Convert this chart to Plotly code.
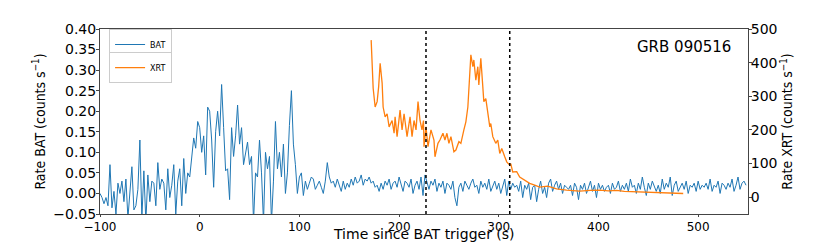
import numpy as np
import plotly.graph_objects as go

# BAT light curve, 2 s bins from -100 s to 548 s
bat_time = np.arange(-100, 550, 2)
bat_rate = [
    0.00, -0.01, -0.025, -0.01, -0.03, 0.07, -0.035, 0.005, -0.05, 0.025,
    0.00, 0.03, -0.02, 0.035, -0.06, 0.015, 0.065, -0.04, -0.03, 0.01,
    0.13, -0.06, 0.055, -0.07, 0.045, -0.02, 0.03, 0.025, -0.03, 0.075,
    0.01, 0.035, 0.025, -0.04, 0.06, -0.01, 0.02, 0.07, -0.05, 0.03,
    0.06, -0.03, 0.085, 0.00, 0.05, 0.04, 0.09, 0.135, 0.11, 0.175,
    # t = 0 .. 128
    0.16, 0.10, 0.14, 0.045, 0.21, 0.20, 0.13, 0.015, 0.15, 0.20,
    0.14, 0.265, 0.16, 0.055, 0.06, -0.015, 0.16, 0.09, 0.14, 0.215,
    0.12, 0.16, 0.07, 0.10, 0.125, 0.07, 0.09, -0.07, 0.05, 0.04,
    0.13, 0.05, -0.07, 0.10, 0.06, 0.09, -0.07, 0.03, 0.175, 0.06,
    0.10, 0.04, 0.12, 0.00, 0.05, 0.165, 0.25, 0.12, 0.07, 0.00,
    0.04, 0.05, -0.005, 0.03, 0.01, 0.025, 0.04, 0.035, 0.01, 0.02,
    0.03, 0.015, 0.00, 0.03, 0.075,
    # t = 130 .. 548
    0.04, 0.025, 0.03, 0.015, 0.035, 0.02, 0.005, 0.03, 0.01, 0.025,
    0.015, 0.035, 0.02, 0.04, 0.025, 0.03, 0.045, 0.02, 0.035, 0.03,
    0.04, 0.025, 0.03, 0.015, 0.02, 0.005, 0.025, 0.01, 0.03, 0.02,
    0.035, 0.01, 0.025, 0.03, 0.015, 0.04, 0.02, 0.005, 0.03, 0.025,
    0.015, 0.035, 0.00, 0.02, 0.03, 0.01, 0.04, -0.005, 0.045, 0.025,
    0.01, 0.03, 0.02, 0.035, 0.005, 0.025, 0.015, 0.03, 0.00, 0.025,
    0.02, 0.01, 0.03, -0.01, -0.03, 0.015, 0.025, 0.005, 0.03, 0.02,
    0.01, 0.025, 0.035, 0.015, 0.02, 0.00, 0.03, 0.015, 0.025, 0.01,
    0.035, 0.005, 0.02, 0.03, 0.01, 0.025, 0.00, 0.02, 0.035, -0.005,
    0.03, 0.01, 0.025, 0.015, 0.02, 0.005, 0.03, -0.01, 0.02, 0.01,
    0.025, -0.015, 0.015, 0.02, -0.02, 0.01, 0.03, 0.00, 0.015, -0.01,
    0.025, 0.035, 0.005, 0.02, 0.03, 0.01, 0.025, 0.00, 0.02, 0.015,
    0.01, 0.02, -0.005, 0.025, 0.015, -0.015, 0.02, 0.01, 0.025, 0.00,
    0.015, 0.03, 0.005, 0.02, -0.01, 0.025, 0.01, 0.02, 0.005, 0.015,
    0.02, 0.00, 0.025, 0.01, 0.015, 0.03, 0.005, 0.02, 0.01, 0.025,
    0.005, 0.035, 0.015, 0.02, 0.00, 0.025, 0.01, 0.04, 0.015, -0.005,
    0.025, 0.01, 0.03, 0.015, 0.005, 0.02, 0.00, 0.035, 0.01, 0.025,
    0.015, 0.04, -0.005, 0.02, 0.03, 0.005, 0.015, 0.025, 0.01, 0.03,
    0.00, 0.02, 0.015, 0.025, 0.005, 0.03, 0.01, 0.02, 0.015, 0.025,
    0.01, 0.035, 0.005, 0.02, 0.015, 0.03, 0.00, 0.025, 0.02, 0.01,
    0.025, 0.015, 0.035, 0.005, 0.02, 0.04, 0.01, 0.025, 0.03, 0.02,
]

# XRT light curve
xrt_time = [
    172, 174, 176, 178, 179.5, 181, 183, 184, 186, 188,
    190, 193, 195, 196, 198, 201, 203, 205, 208, 211,
    213, 215, 217, 219, 221, 223, 224.5, 225, 227, 229,
    232, 235, 236, 239, 241, 244, 246, 248, 250, 252,
    255, 257, 260, 262, 265, 267, 269, 271, 272, 274,
    275, 277, 279, 280, 282, 284, 285, 287, 289, 291,
    292, 294, 297, 299, 301, 303, 306, 308, 311, 312,
    314, 318, 321, 326, 331, 336, 341, 349, 358, 368,
    381, 392, 401, 410, 418, 426, 435, 443, 451, 460,
    468, 476, 485,
]
xrt_rate = [
    467, 324, 268, 284, 328, 398, 339, 268, 239, 248,
    209, 228, 190, 239, 180, 259, 200, 248, 180, 239,
    180, 228, 200, 284, 228, 200, 228, 150, 209, 150,
    200, 170, 120, 160, 170, 190, 170, 190, 160, 180,
    135, 140, 165, 160, 200, 224, 268, 358, 423, 388,
    408, 348, 388, 334, 413, 328, 284, 293, 248, 209,
    219, 180, 160, 170, 130, 145, 120, 105, 95, 100,
    75, 76, 60, 50, 41, 36, 30, 33, 25, 21,
    18, 20, 21, 19, 20, 17, 16, 15, 16, 14,
    12, 12, 11,
]

dashed_times = [227, 311]

tick_font = dict(family='DejaVu Sans', size=14, color='black')
title_font = dict(family='Liberation Sans Narrow, DejaVu Sans Condensed, Arial Narrow, sans-serif',
                  size=14, color='black')

fig = go.Figure()

fig.add_trace(go.Scatter(
    x=bat_time, y=bat_rate, mode='lines', name='BAT',
    line=dict(color='#1f77b4', width=1), legend='legend',
))
fig.add_trace(go.Scatter(
    x=xrt_time, y=xrt_rate, mode='lines', name='XRT', yaxis='y2',
    line=dict(color='#ff7f0e', width=1.3), legend='legend2',
))

for t in dashed_times:
    fig.add_shape(type='line', x0=t, x1=t, xref='x', y0=0, y1=1, yref='paper',
                  line=dict(color='black', width=1.5, dash='dot'))

fig.add_annotation(text='GRB 090516', xref='paper', yref='paper', x=0.977, y=0.905,
                   xanchor='right', yanchor='middle', showarrow=False,
                   font=dict(family='DejaVu Sans', size=15, color='black'))

# x-axis title as an annotation so it sits just under the tick labels
fig.add_annotation(text='Time since BAT trigger (s)', xref='paper', yref='paper', x=0.5, y=-0.162,
                   xanchor='center', yanchor='bottom', showarrow=False,
                   font=dict(family='DejaVu Sans', size=14, color='black'))

legend_style = dict(
    bgcolor='white', bordercolor='#cccccc', borderwidth=1,
    font=dict(family='DejaVu Sans', size=8, color='black'),
    itemwidth=30, tracegroupgap=0, xanchor='left', yanchor='top',
)

# the page body adds an 8 px offset, so the figure is 8 px smaller than the window
fig.update_layout(
    width=822, height=237,
    margin=dict(l=92, r=82, t=21, b=31),
    plot_bgcolor='white', paper_bgcolor='white',
    showlegend=True,
    legend=dict(x=0.014, y=1.0, **legend_style),
    legend2=dict(x=0.014, y=0.875, **legend_style),
    xaxis=dict(
        range=[-100, 550], tickvals=[-100, 0, 100, 200, 300, 400, 500],
        showgrid=False, zeroline=False, showline=True, linecolor='#444', mirror=True,
        ticks='outside', ticklen=2, tickcolor='#444', automargin=False,
        tickfont=dict(family='DejaVu Sans', size=12, color='black'),
    ),
    yaxis=dict(
        range=[-0.05, 0.40], dtick=0.05, tick0=0, tickformat='.2f',
        showgrid=False, zeroline=False, showline=True, linecolor='#444', mirror=True,
        ticks='outside', ticklen=3, tickcolor='#444', tickfont=tick_font, automargin=False,
        ticklabelstandoff=-3,
        title=dict(text='Rate BAT (counts s<sup>−1</sup>)', font=title_font, standoff=4),
    ),
    yaxis2=dict(
        range=[-50, 500], tickvals=[0, 100, 200, 300, 400, 500],
        overlaying='y', side='right', showgrid=False, zeroline=False,
        ticks='outside', ticklen=3, tickcolor='#444', tickfont=tick_font, automargin=False,
        ticklabelstandoff=-4,
        title=dict(text='Rate XRT (counts s<sup>−1</sup>)', font=title_font, standoff=4),
    ),
)

fig.write_html("out.html")
